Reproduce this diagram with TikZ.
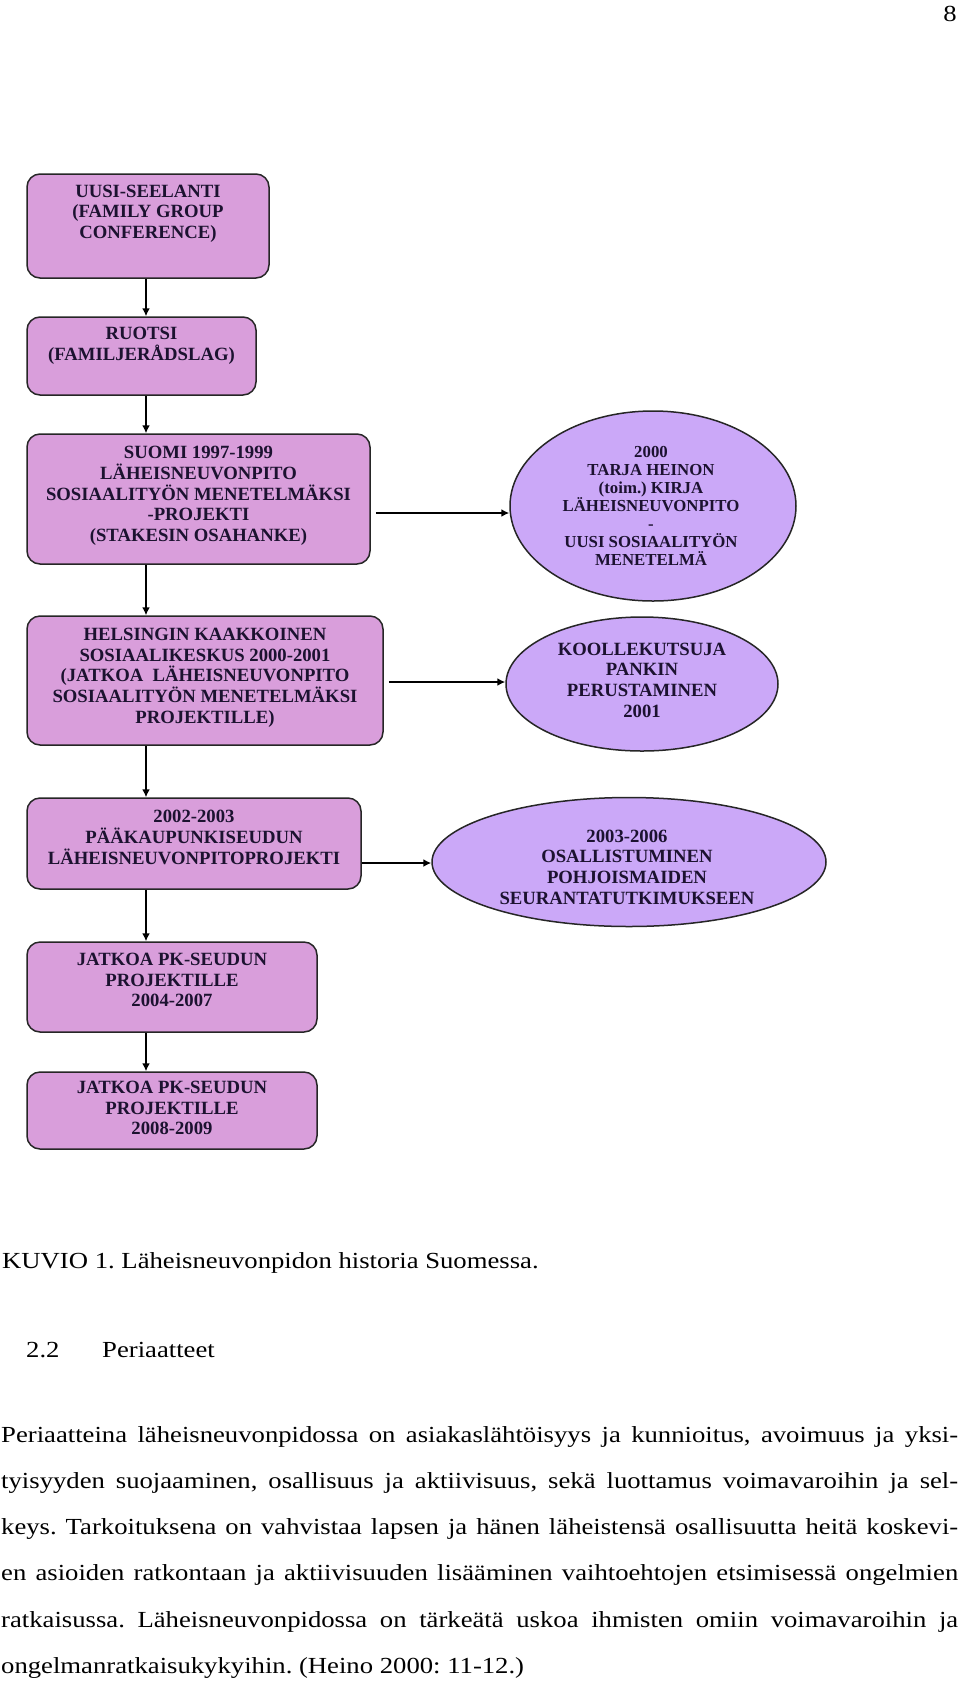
\documentclass[tikz,border=0pt]{standalone}
\usepackage{fontspec}
\setmainfont{Liberation Serif}
\newfontfamily\bodyfont[FakeStretch=1.16]{Liberation Serif}
\usetikzlibrary{shapes.geometric,arrows.meta}
\definecolor{boxfill}{HTML}{D99EDB}
\definecolor{ellfill}{HTML}{CBA8F8}
\definecolor{txt}{HTML}{1C1230}
\definecolor{edge}{HTML}{262626}
\frenchspacing
\begin{document}
\begin{tikzpicture}[x=1pt,y=-1pt,
  box/.style={draw=edge,line width=1.5pt,fill=boxfill,rounded corners=13pt,inner sep=0pt},
  ell/.style={ellipse,draw=edge,line width=1.5pt,fill=ellfill,inner sep=0pt},
  btext/.style={font=\fontsize{18.7}{20.7}\selectfont\bfseries,text=txt,align=center,inner sep=0pt},
  etext/.style={font=\fontsize{16.8}{18}\selectfont\bfseries,text=txt,align=center,inner sep=0pt},
  arr/.style={line width=2.2pt,draw=black,-{Latex[length=8pt,width=8pt]}},
  body/.style={anchor=base west,inner sep=0pt,font=\bodyfont\fontsize{23}{46.3}\selectfont}]
\useasboundingbox (0,0) rectangle (960,1682);
\fill[white] (0,0) rectangle (960,1682);

% boxes
\node[box,minimum width=242pt,minimum height=104pt] (b1) at (148,226) {};
\node[box,minimum width=229pt,minimum height=78pt] (b2) at (141.5,356) {};
\node[box,minimum width=343pt,minimum height=130pt] (b3) at (198.5,499) {};
\node[box,minimum width=356pt,minimum height=129pt] (b4) at (205,680.5) {};
\node[box,minimum width=334pt,minimum height=91pt] (b5) at (194,843.5) {};
\node[box,minimum width=290pt,minimum height=90pt] (b6) at (172,987) {};
\node[box,minimum width=290pt,minimum height=77pt] (b7) at (172,1110.5) {};

% ellipses
\node[ell,minimum width=286pt,minimum height=190pt] (e1) at (653,506) {};
\node[ell,minimum width=272pt,minimum height=134pt] (e2) at (642,684) {};
\node[ell,minimum width=394pt,minimum height=129pt] (e3) at (629,862) {};

% box texts
\node[btext] (t1) at (148,213.5) {UUSI-SEELANTI\\(FAMILY GROUP\\CONFERENCE)};
\node[btext] (t2) at (141.5,346) {RUOTSI\\(FAMILJERÅDSLAG)};
\node[btext] (t3) at (198.5,496) {SUOMI 1997-1999\\LÄHEISNEUVONPITO\\SOSIAALITYÖN MENETELMÄKSI\\-PROJEKTI\\(STAKESIN OSAHANKE)};
\node[btext] (t4) at (205,677.5) {HELSINGIN KAAKKOINEN\\SOSIAALIKESKUS 2000-2001\\(JATKOA\ \ LÄHEISNEUVONPITO\\SOSIAALITYÖN MENETELMÄKSI\\PROJEKTILLE)};
\node[btext] (t5) at (194,837.5) {2002-2003\\PÄÄKAUPUNKISEUDUN\\LÄHEISNEUVONPITOPROJEKTI};
\node[btext] (t6) at (172,980) {JATKOA PK-SEUDUN\\PROJEKTILLE\\2004-2007};
\node[btext] (t7) at (172,1108) {JATKOA PK-SEUDUN\\PROJEKTILLE\\2008-2009};

% ellipse texts
\node[etext] (u1) at (651,506) {2000\\TARJA HEINON\\(toim.) KIRJA\\LÄHEISNEUVONPITO\\-\\UUSI SOSIAALITYÖN\\MENETELMÄ};
\node[btext] (u2) at (642,680) {KOOLLEKUTSUJA\\PANKIN\\PERUSTAMINEN\\2001};
\node[btext] (u3) at (627,867) {2003-2006\\OSALLISTUMINEN\\POHJOISMAIDEN\\SEURANTATUTKIMUKSEEN};

% connectors
\coordinate (vx) at (146,0);
\coordinate (h1) at (0,513);
\coordinate (h2) at (0,682);
\coordinate (h3) at (0,863);
\draw[arr] (b1.south -| vx) -- (b2.north -| vx);
\draw[arr] (b2.south -| vx) -- (b3.north -| vx);
\draw[arr] (b3.south -| vx) -- (b4.north -| vx);
\draw[arr] (b4.south -| vx) -- (b5.north -| vx);
\draw[arr] (b5.south -| vx) -- (b6.north -| vx);
\draw[arr] (b6.south -| vx) -- (b7.north -| vx);
\draw[arr,shorten <=5pt] (b3.east |- h1) -- (e1.west |- h1);
\draw[arr,shorten <=5pt] (b4.east |- h2) -- (e2.west |- h2);
\draw[arr] (b5.east |- h3) -- (e3.west |- h3);

% page text
\node[body,anchor=base east] (pg) at (957,21) {8};
\node[body] (cap) at (2,1268) {KUVIO 1. Läheisneuvonpidon historia Suomessa.};
\node[body] (secn) at (26,1357) {2.2};
\node[body] (sect) at (102,1357) {Periaatteet};
\node[body] (l1) at (1,1442) {\hbox to 957pt{Periaatteina läheisneuvonpidossa on asiakaslähtöisyys ja kunnioitus, avoimuus ja yksi-}};
\node[body] (l2) at (1,1488.3) {\hbox to 957pt{tyisyyden suojaaminen, osallisuus ja aktiivisuus, sekä luottamus voimavaroihin ja sel-}};
\node[body] (l3) at (1,1534.6) {\hbox to 957pt{keys. Tarkoituksena on vahvistaa lapsen ja hänen läheistensä osallisuutta heitä koskevi-}};
\node[body] (l4) at (1,1580.9) {\hbox to 957pt{en asioiden ratkontaan ja aktiivisuuden lisääminen vaihtoehtojen etsimisessä ongelmien}};
\node[body] (l5) at (1,1627.2) {\hbox to 957pt{ratkaisussa. Läheisneuvonpidossa on tärkeätä uskoa ihmisten omiin voimavaroihin ja}};
\node[body] (l6) at (1,1673.5) {ongelmanratkaisukykyihin. (Heino 2000: 11-12.)};
\end{tikzpicture}
\end{document}
